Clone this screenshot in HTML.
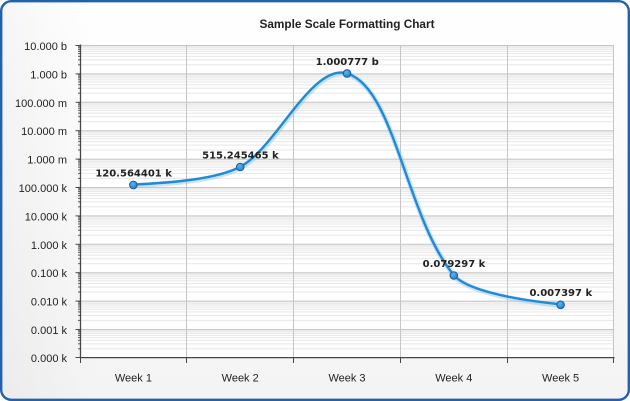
<!DOCTYPE html>
<html>
<head>
<meta charset="utf-8">
<style>
html,body{margin:0;padding:0;background:#ffffff;}
#wrap{position:relative;width:630px;height:401px;overflow:hidden;}
svg{display:block;}
</style>
</head>
<body>
<div id="wrap">
<svg width="630" height="401" viewBox="0 0 630 401" xmlns="http://www.w3.org/2000/svg">
  <defs>
    <linearGradient id="bg" x1="0" y1="0" x2="0" y2="1">
      <stop offset="0" stop-color="#ffffff"/>
      <stop offset="1" stop-color="#f4f4f4"/>
    </linearGradient>
    <linearGradient id="bgl" x1="0" y1="0" x2="1" y2="0">
      <stop offset="0" stop-color="#000" stop-opacity="0.035"/>
      <stop offset="0.15" stop-color="#000" stop-opacity="0"/>
    </linearGradient>
    <pattern id="minor" patternUnits="userSpaceOnUse" x="0" y="45" width="640" height="28.4">
      <g stroke="#e6e6e6" stroke-width="1">
        <line x1="0" x2="640" y1="19.85" y2="19.85"/>
        <line x1="0" x2="640" y1="14.85" y2="14.85"/>
        <line x1="0" x2="640" y1="11.30" y2="11.30"/>
        <line x1="0" x2="640" y1="8.55" y2="8.55"/>
        <line x1="0" x2="640" y1="6.30" y2="6.30"/>
        <line x1="0" x2="640" y1="4.40" y2="4.40"/>
        <line x1="0" x2="640" y1="2.75" y2="2.75"/>
        <line x1="0" x2="640" y1="1.30" y2="1.30"/>
      </g>
    </pattern>
    <pattern id="mtick" patternUnits="userSpaceOnUse" x="0" y="45" width="640" height="28.4">
      <g stroke="#555" stroke-width="1">
        <line x1="0" x2="640" y1="19.85" y2="19.85"/>
        <line x1="0" x2="640" y1="14.85" y2="14.85"/>
        <line x1="0" x2="640" y1="11.30" y2="11.30"/>
        <line x1="0" x2="640" y1="8.55" y2="8.55"/>
        <line x1="0" x2="640" y1="6.30" y2="6.30"/>
        <line x1="0" x2="640" y1="4.40" y2="4.40"/>
        <line x1="0" x2="640" y1="2.75" y2="2.75"/>
        <line x1="0" x2="640" y1="1.30" y2="1.30"/>
      </g>
    </pattern>
    <radialGradient id="mk" cx="0.4" cy="0.35" r="0.7">
      <stop offset="0" stop-color="#5db3ee"/>
      <stop offset="1" stop-color="#1e7fc8"/>
    </radialGradient>
  </defs>

  <!-- background panel -->
  <rect x="1.2" y="1.2" width="627.6" height="398.6" rx="10" ry="10" fill="url(#bg)"/>
  <rect x="1.2" y="1.2" width="627.6" height="398.6" rx="10" ry="10" fill="url(#bgl)"/>

  <!-- title -->
  <text x="347" y="28" text-anchor="middle" font-family="Liberation Sans, Arial, sans-serif" font-weight="bold" font-size="11.8" fill="#222">Sample Scale Formatting Chart</text>

  <!-- plot area -->
  <rect x="80" y="45" width="534" height="312.4" fill="#ffffff"/>
  <rect x="80" y="45" width="534" height="312.4" fill="url(#minor)"/>

  <!-- major horizontal grid -->
  <g stroke="#c6c6c6" stroke-width="1">
    <line x1="80" x2="614" y1="45.5" y2="45.5"/>
    <line x1="80" x2="614" y1="73.9" y2="73.9"/>
    <line x1="80" x2="614" y1="102.3" y2="102.3"/>
    <line x1="80" x2="614" y1="130.7" y2="130.7"/>
    <line x1="80" x2="614" y1="159.1" y2="159.1"/>
    <line x1="80" x2="614" y1="187.5" y2="187.5"/>
    <line x1="80" x2="614" y1="215.9" y2="215.9"/>
    <line x1="80" x2="614" y1="244.3" y2="244.3"/>
    <line x1="80" x2="614" y1="272.7" y2="272.7"/>
    <line x1="80" x2="614" y1="301.1" y2="301.1"/>
    <line x1="80" x2="614" y1="329.5" y2="329.5"/>
  </g>
  <!-- vertical grid -->
  <g stroke="#c6c6c6" stroke-width="1">
    <line x1="186.5" x2="186.5" y1="45" y2="357"/>
    <line x1="293.5" x2="293.5" y1="45" y2="357"/>
    <line x1="400.5" x2="400.5" y1="45" y2="357"/>
    <line x1="507.5" x2="507.5" y1="45" y2="357"/>
    <line x1="613.5" x2="613.5" y1="45" y2="357"/>
  </g>

  <!-- y axis minor ticks -->
  <rect x="78" y="45" width="2" height="312.4" fill="url(#mtick)"/>
  <!-- y axis major ticks -->
  <g stroke="#4a4a4a" stroke-width="1">
    <line x1="75.5" x2="80" y1="45.5" y2="45.5"/>
    <line x1="75.5" x2="80" y1="73.9" y2="73.9"/>
    <line x1="75.5" x2="80" y1="102.3" y2="102.3"/>
    <line x1="75.5" x2="80" y1="130.7" y2="130.7"/>
    <line x1="75.5" x2="80" y1="159.1" y2="159.1"/>
    <line x1="75.5" x2="80" y1="187.5" y2="187.5"/>
    <line x1="75.5" x2="80" y1="215.9" y2="215.9"/>
    <line x1="75.5" x2="80" y1="244.3" y2="244.3"/>
    <line x1="75.5" x2="80" y1="272.7" y2="272.7"/>
    <line x1="75.5" x2="80" y1="301.1" y2="301.1"/>
    <line x1="75.5" x2="80" y1="329.5" y2="329.5"/>
    <line x1="75.5" x2="80" y1="357.5" y2="357.5"/>
  </g>
  <!-- axes lines -->
  <line x1="80.5" x2="80.5" y1="44.5" y2="358" stroke="#474747" stroke-width="1.3"/>
  <line x1="80" x2="614.5" y1="357.6" y2="357.6" stroke="#474747" stroke-width="1.3"/>
  <!-- x ticks -->
  <g stroke="#474747" stroke-width="1">
    <line x1="80.5" x2="80.5" y1="358" y2="363"/>
    <line x1="186.5" x2="186.5" y1="358" y2="363"/>
    <line x1="293.5" x2="293.5" y1="358" y2="363"/>
    <line x1="400.5" x2="400.5" y1="358" y2="363"/>
    <line x1="507.5" x2="507.5" y1="358" y2="363"/>
    <line x1="613.5" x2="613.5" y1="358" y2="363"/>
  </g>

  <!-- y labels -->
  <g font-family="Liberation Sans, Arial, sans-serif" font-size="11" fill="#222" text-anchor="end">
    <text x="67" y="50">10.000 b</text>
    <text x="67" y="78.4">1.000 b</text>
    <text x="67" y="106.8">100.000 m</text>
    <text x="67" y="135.2">10.000 m</text>
    <text x="67" y="163.6">1.000 m</text>
    <text x="67" y="192">100.000 k</text>
    <text x="67" y="220.4">10.000 k</text>
    <text x="67" y="248.8">1.000 k</text>
    <text x="67" y="277.2">0.100 k</text>
    <text x="67" y="305.6">0.010 k</text>
    <text x="67" y="334">0.001 k</text>
    <text x="67" y="362">0.000 k</text>
  </g>

  <!-- x labels -->
  <g font-family="Liberation Sans, Arial, sans-serif" font-size="11" fill="#222" text-anchor="middle">
    <text x="133.4" y="381.5">Week 1</text>
    <text x="240.2" y="381.5">Week 2</text>
    <text x="347" y="381.5">Week 3</text>
    <text x="453.8" y="381.5">Week 4</text>
    <text x="560.6" y="381.5">Week 5</text>
  </g>

  <!-- series -->
  <path d="M133.4,184.7 C169,182.7 215.2,179.8 240.2,166.8 C275.8,148.3 312,62.9 347,73.4 C395,87.8 405.8,217.5 453.8,275.1 C465.8,289.5 510.6,299.3 560.6,304.3"
        fill="none" stroke="#8cc4ee" stroke-opacity="0.45" stroke-width="5" stroke-linecap="round" transform="translate(0.6,1)"/>
  <path d="M133.4,184.7 C169,182.7 215.2,179.8 240.2,166.8 C275.8,148.3 312,62.9 347,73.4 C395,87.8 405.8,217.5 453.8,275.1 C465.8,289.5 510.6,299.3 560.6,304.3"
        fill="none" stroke="#1f8ad6" stroke-width="2.4" stroke-linecap="round" stroke-linejoin="round"/>

  <g fill="url(#mk)" stroke="#1a5f9c" stroke-width="1">
    <circle cx="133.4" cy="184.9" r="3.8"/>
    <circle cx="240.2" cy="167" r="3.8"/>
    <circle cx="347" cy="73.4" r="3.8"/>
    <circle cx="453.8" cy="275.5" r="3.8"/>
    <circle cx="560.6" cy="304.8" r="3.8"/>
  </g>

  <!-- data labels -->
  <g font-family="DejaVu Sans, Verdana, sans-serif" font-weight="bold" font-size="10" fill="#222" text-anchor="middle">
    <text x="133.6" y="176.6">120.564401 k</text>
    <text x="240.4" y="158.4">515.245465 k</text>
    <text x="347.2" y="65">1.000777 b</text>
    <text x="454" y="266.8">0.079297 k</text>
    <text x="560.8" y="296">0.007397 k</text>
  </g>

  <!-- border -->
  <rect x="1.2" y="1.2" width="627.6" height="398.6" rx="10" ry="10" fill="none" stroke="#2261ad" stroke-width="2.4"/>
</svg>
</div>
</body>
</html>
